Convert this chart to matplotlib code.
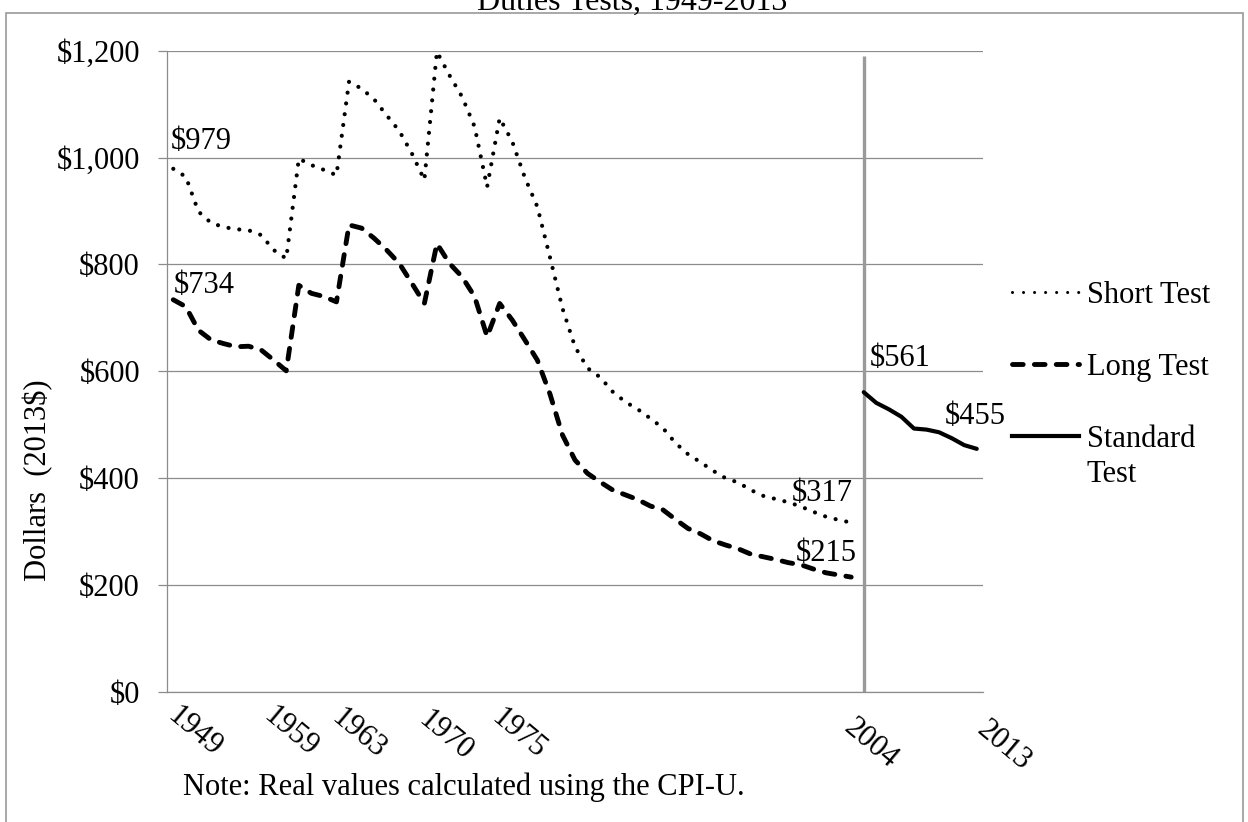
import matplotlib
matplotlib.use("Agg")
import matplotlib.pyplot as plt
from matplotlib.lines import Line2D
from matplotlib.patches import Rectangle
from matplotlib.ticker import FuncFormatter, MultipleLocator
from matplotlib.transforms import ScaledTranslation

# values (real 2013 dollars)
years_pre = list(range(1949, 2004))
short_test = [979, 964, 899, 878, 870, 866, 864, 855, 827, 811,
              998, 986, 977, 967,
              1142, 1129, 1109, 1079, 1050, 1008, 958,
              1198, 1154, 1114, 1058, 945,
              1074, 1030, 963, 908, 814, 718, 646, 606, 589, 562,
              543, 529, 512, 494, 466, 445, 430, 414, 400, 392,
              378, 367, 361, 355, 347, 337, 328, 322, 317]
long_test = [734, 721, 677, 659, 652, 646, 647, 640, 621, 601,
             761, 746, 740, 730,
             874, 868, 849, 827, 802, 765, 727,
             839, 802, 777, 740, 665,
             727, 696, 659, 621, 558, 481, 434, 409, 393, 378,
             369, 360, 348, 341, 323, 306, 296, 283, 275, 268,
             258, 253, 248, 242, 238, 230, 223, 219, 215]
years_std = list(range(2004, 2014))
standard_test = [561, 541, 529, 515, 493, 491, 486, 475, 462, 455]

tick_years = [1949, 1959, 1963, 1970, 1975, 2004, 2013]
tick_labels = [str(y) for y in tick_years]
# small per-label nudges (pixels) to follow the hand-placed labels
nudge_x = [7, -22, -5, -5, 5, -7, 13]
nudge_y = [0, 0, 2, 4, 2, 12, 14]

plt.rcParams['font.family'] = ['Liberation Serif', 'DejaVu Serif']
fs = 22
grid_col = '#8c8c8c'

fig = plt.figure(figsize=(12.48, 8.22), dpi=100)
ax = fig.add_axes([167 / 1248, 130 / 822, 816 / 1248, 641.3 / 822])

ax.set_xlim(1948.5, 2013.5)
ax.set_ylim(0, 1200)
ax.yaxis.set_major_locator(MultipleLocator(200))
ax.yaxis.set_major_formatter(FuncFormatter(lambda v, p: "${:,.0f}".format(v)))
ax.grid(axis='y', color=grid_col, lw=0.9)
ax.set_axisbelow(True)
for s in ['top', 'right']:
    ax.spines[s].set_visible(False)
for s in ['left', 'bottom']:
    ax.spines[s].set_color(grid_col)
    ax.spines[s].set_linewidth(0.9)
ax.tick_params(axis='y', length=6.5, width=0.9, color=grid_col, pad=13,
               labelsize=fs)
ax.tick_params(axis='x', length=0, pad=6.5, labelsize=fs)

ax.set_xticks(tick_years, tick_labels)
for lab, dx, dy in zip(ax.get_xticklabels(), nudge_x, nudge_y):
    lab.set_rotation(-40)
    lab.set_rotation_mode('anchor')
    lab.set_ha('left')
    lab.set_va('top')
    lab.set_transform(lab.get_transform() +
                      ScaledTranslation(dx / 100, -dy / 100, fig.dpi_scale_trans))

# divider at 2004
ax.vlines(2004, 0, 1190, color='#9a9a9a', lw=2.4, zorder=1.5)

ax.plot(years_pre, short_test, color='black', lw=3.0,
        linestyle=(0, (0.01, 2.6)), dash_capstyle='round', zorder=3)
ax.plot(years_pre, long_test, color='black', lw=3.5,
        linestyle=(0, (2.2, 2.3)), dash_capstyle='round', zorder=3)
ax.plot(years_std, standard_test, color='black', lw=3.0,
        solid_capstyle='round', zorder=3)

# end point labels
lab_kw = dict(textcoords='offset pixels', fontsize=fs, va='baseline')
ax.annotate("${}".format(short_test[0]), (years_pre[0], short_test[0]),
            xytext=(-3, 20), ha='left', **lab_kw)
ax.annotate("${}".format(long_test[0]), (years_pre[0], long_test[0]),
            xytext=(0, 7), ha='left', **lab_kw)
ax.annotate("${}".format(short_test[-1]), (years_pre[-1], short_test[-1]),
            xytext=(2, 22), ha='right', **lab_kw)
ax.annotate("${}".format(long_test[-1]), (years_pre[-1], long_test[-1]),
            xytext=(6, 16), ha='right', **lab_kw)
ax.annotate("${}".format(standard_test[0]), (years_std[0], standard_test[0]),
            xytext=(6, 26), ha='left', **lab_kw)
ax.annotate("${}".format(standard_test[-1]), (years_std[-1], standard_test[-1]),
            xytext=(-1, 25), ha='center', **lab_kw)

# legend
handles = [
    Line2D([], [], color='black', lw=2.2, linestyle=(0, (0.01, 3.6)),
           dash_capstyle='round'),
    Line2D([], [], color='black', lw=3.5, linestyle=(0, (2.2, 2.3)),
           dash_capstyle='round'),
    Line2D([], [], color='black', lw=3.0),
]
leg = ax.legend(handles, ['Short Test', 'Long Test', 'Standard'],
                loc='upper left', bbox_to_anchor=(1012 / 1248, 1 - 281 / 822),
                bbox_transform=fig.transFigure, frameon=False, fontsize=fs,
                handlelength=2.2, handletextpad=0.25, labelspacing=1.4,
                borderpad=0, borderaxespad=0)
# second line of the "Standard Test" entry, drawn after the legend is laid out
ax.annotate('Test', xy=(0, 0.5), xycoords=leg.get_texts()[2],
            xytext=(0, -35), textcoords='offset pixels',
            ha='left', va='center', fontsize=fs, zorder=10)

ax.set_ylabel('Dollars  (2013$)', fontsize=fs)
ax.yaxis.label.set(ha='center', va='center', rotation_mode='default')
ax.yaxis.set_label_coords((38 - 167) / 816, (692 - 480) / 641.3)

fig.text(632 / 1248, 1 - 10 / 822, 'Duties Tests, 1949-2013',
         ha='center', va='baseline', fontsize=23)
fig.text(183 / 1248, 1 - 795 / 822,
         'Note: Real values calculated using the CPI-U.',
         ha='left', va='baseline', fontsize=fs)

fig.add_artist(Rectangle((6 / 1248, -0.05), 1237 / 1248, 1.05 - 13 / 822,
                         transform=fig.transFigure, fill=False,
                         edgecolor='#9a9a9a', lw=1.2))

fig.savefig('out.png', dpi=100)
